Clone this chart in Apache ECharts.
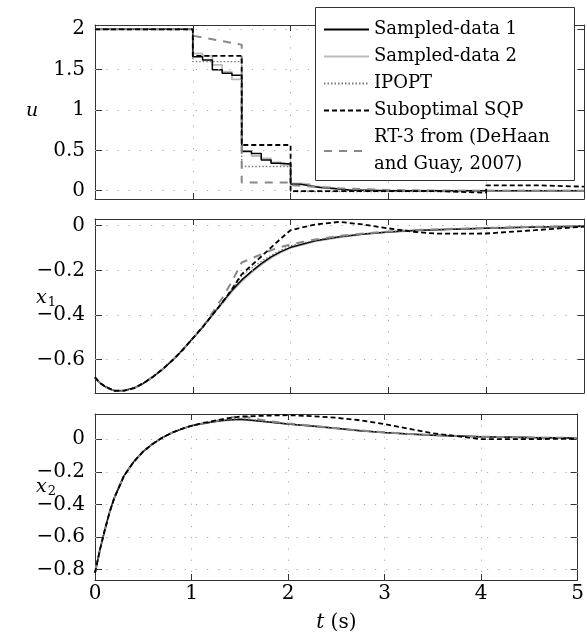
<!DOCTYPE html>
<html>
<head>
<meta charset="utf-8">
<script src="https://cdn.jsdelivr.net/npm/echarts@6/dist/echarts.min.js"></script>
<style>
  html, body { margin: 0; padding: 0; background: #fff; }
  #chart { width: 587px; height: 634px; }
</style>
</head>
<body>
<div id="chart"></div>
<script>
// legend names, in legend order
const names = ["Sampled-data 1", "Sampled-data 2", "IPOPT", "Suboptimal SQP", "RT-3 from (DeHaan\nand Guay, 2007)"];

// tick labels
const tTicks = [0, 1, 2, 3, 4, 5];
const uTicks = [0, 0.5, 1, 1.5, 2];
const x1Ticks = [-0.6, -0.4, -0.2, 0];
const x2Ticks = [-0.8, -0.6, -0.4, -0.2, 0];

// control input u (held values, step at each sample time)
const uTimeFine = [0, 1, 1.1, 1.2, 1.3, 1.4, 1.5, 1.6, 1.7, 1.8, 1.9, 2, 2.1, 2.2, 2.3, 2.4, 2.5, 2.6, 3, 3.5, 4, 5];
const uSampled1 = [2, 1.66, 1.62, 1.50, 1.455, 1.43, 0.49, 0.46, 0.38, 0.34, 0.33, 0.08, 0.06, 0.04, 0.03, 0.02, 0.01, 0, 0, 0, 0, 0];
const uSampled2 = [2, 1.70, 1.67, 1.56, 1.475, 1.38, 0.48, 0.43, 0.40, 0.35, 0.32, 0.09, 0.08, 0.05, 0.04, 0.02, 0.01, 0, 0, 0, 0, 0];
const uTimeCoarse = [0, 1, 1.5, 2, 2.5, 3, 3.5, 4, 4.5, 5];
const uIpopt = [2, 1.6, 0.30, -0.01, -0.01, -0.01, -0.01, 0, 0, 0];
const uSqp = [2, 1.67, 0.566, -0.005, -0.005, -0.005, -0.025, 0.067, 0.05, 0.05];
const uRt3Time = [0, 1, 1, 1.5, 1.5, 2, 2, 2.5, 3, 3.5, 5];
const uRt3 = [2, 2, 1.92, 1.81, 0.10, 0.10, 0.07, 0.03, 0.01, 0, 0];

// states
const tState = [0, 0.05, 0.1, 0.15, 0.2, 0.3, 0.4, 0.5, 0.6, 0.7, 0.8, 0.9, 1, 1.1, 1.2, 1.3, 1.4, 1.5, 1.6, 1.7, 1.8, 1.9, 2, 2.25, 2.5, 2.75, 3, 3.25, 3.5, 4, 4.5, 5];

const x1Sampled1 = [-0.68, -0.705, -0.72, -0.731, -0.740, -0.739, -0.728, -0.705, -0.675, -0.64, -0.60, -0.555, -0.505, -0.455, -0.40, -0.345, -0.29, -0.243, -0.205, -0.17, -0.14, -0.116, -0.097, -0.068, -0.05, -0.037, -0.028, -0.022, -0.018, -0.011, -0.006, -0.002];
const x1Sampled2 = [-0.68, -0.705, -0.72, -0.731, -0.740, -0.739, -0.728, -0.705, -0.675, -0.64, -0.60, -0.555, -0.505, -0.455, -0.40, -0.35, -0.296, -0.25, -0.21, -0.175, -0.145, -0.12, -0.10, -0.07, -0.052, -0.038, -0.029, -0.023, -0.018, -0.011, -0.006, -0.002];
const x1Ipopt = [-0.68, -0.705, -0.72, -0.731, -0.740, -0.739, -0.728, -0.705, -0.675, -0.64, -0.60, -0.555, -0.505, -0.455, -0.40, -0.345, -0.285, -0.225, -0.19, -0.16, -0.133, -0.11, -0.09, -0.065, -0.048, -0.036, -0.027, -0.021, -0.017, -0.01, -0.005, -0.002];
const x1Sqp = [-0.68, -0.705, -0.72, -0.731, -0.740, -0.739, -0.728, -0.705, -0.675, -0.64, -0.60, -0.555, -0.505, -0.455, -0.40, -0.345, -0.285, -0.218, -0.178, -0.138, -0.098, -0.058, -0.02, 0.005, 0.017, 0.005, -0.012, -0.027, -0.036, -0.035, -0.02, -0.004];
const x1Rt3 = [-0.68, -0.705, -0.72, -0.731, -0.740, -0.739, -0.728, -0.705, -0.675, -0.64, -0.60, -0.555, -0.505, -0.455, -0.39, -0.325, -0.25, -0.165, -0.147, -0.128, -0.11, -0.095, -0.084, -0.062, -0.046, -0.035, -0.026, -0.02, -0.016, -0.01, -0.005, -0.002];

const x2Sampled1 = [-0.82, -0.68, -0.56, -0.45, -0.36, -0.225, -0.14, -0.075, -0.028, 0.01, 0.04, 0.063, 0.082, 0.094, 0.104, 0.112, 0.118, 0.122, 0.117, 0.111, 0.105, 0.099, 0.093, 0.08, 0.066, 0.052, 0.04, 0.031, 0.024, 0.014, 0.01, 0.007];
const x2Sampled2 = [-0.82, -0.68, -0.56, -0.45, -0.36, -0.225, -0.14, -0.075, -0.028, 0.01, 0.04, 0.063, 0.082, 0.094, 0.104, 0.112, 0.116, 0.119, 0.115, 0.11, 0.104, 0.098, 0.092, 0.079, 0.065, 0.051, 0.04, 0.031, 0.024, 0.014, 0.01, 0.007];
const x2Ipopt = [-0.82, -0.68, -0.56, -0.45, -0.36, -0.225, -0.14, -0.075, -0.028, 0.01, 0.04, 0.063, 0.082, 0.094, 0.104, 0.112, 0.122, 0.127, 0.121, 0.114, 0.107, 0.1, 0.094, 0.081, 0.067, 0.053, 0.041, 0.032, 0.025, 0.015, 0.01, 0.007];
const x2Sqp = [-0.82, -0.68, -0.56, -0.45, -0.36, -0.225, -0.14, -0.075, -0.028, 0.01, 0.04, 0.063, 0.082, 0.097, 0.108, 0.12, 0.13, 0.138, 0.14, 0.142, 0.144, 0.146, 0.147, 0.141, 0.131, 0.115, 0.092, 0.064, 0.036, 0, 0, 0.003];
const x2Rt3 = [-0.82, -0.68, -0.56, -0.45, -0.36, -0.225, -0.14, -0.075, -0.028, 0.01, 0.04, 0.063, 0.082, 0.094, 0.104, 0.118, 0.13, 0.142, 0.132, 0.121, 0.111, 0.103, 0.096, 0.082, 0.067, 0.053, 0.041, 0.032, 0.025, 0.015, 0.01, 0.007];

const pts = (ts, vs) => ts.map((t, i) => [t, vs[i]]);

const FONT = "DejaVu Serif";
const FRAME = "#333";
const GRIDLINE = { color: "#aaa", width: 1, type: [1.2, 10] };
const TICKFONT = 20;

// line styles for each method
const styles = [
  { color: "#000", width: 1.5, type: "solid", z: 4 },
  { color: "#bbb", width: 1.8, type: "solid", z: 3 },
  { color: "#777", width: 1.3, type: [1.5, 2], z: 5 },
  { color: "#000", width: 1.8, type: [5, 3], z: 7 },
  { color: "#888", width: 2, type: [8, 7], z: 6 }
];

const grids = [
  { left: 95, top: 25, width: 489, height: 174 },
  { left: 95, top: 219, width: 489, height: 174 },
  { left: 95, top: 414, width: 489, height: 174 }
];
const yRanges = [[-0.103, 2.053, uTicks], [-0.75, 0.03, x1Ticks], [-0.863, 0.154, x2Ticks]];

const xAxes = [];
const yAxes = [];
grids.forEach((g, gi) => {
  const last = gi === 2;
  xAxes.push({
    type: "value", gridIndex: gi, min: 0, max: 5, interval: 1, position: "bottom",
    axisLine: { show: true, onZero: false, lineStyle: { color: FRAME, width: 1 } },
    axisTick: { show: true, inside: true, length: 6, lineStyle: { color: FRAME } },
    axisLabel: { show: last, margin: 4, color: "#000", fontFamily: FONT, fontSize: TICKFONT },
    splitLine: { show: true, lineStyle: GRIDLINE },
    name: last ? "{i|t} (s)" : "",
    nameLocation: "middle", nameGap: 33,
    nameTextStyle: { color: "#000", fontFamily: FONT, fontSize: TICKFONT, rich: { i: { fontFamily: FONT, fontSize: TICKFONT, fontStyle: "italic" } } }
  });
  xAxes.push({
    type: "value", gridIndex: gi, min: 0, max: 5, interval: 1, position: "top",
    axisLine: { show: true, onZero: false, lineStyle: { color: FRAME, width: 1 } },
    axisTick: { show: true, inside: true, length: 6, lineStyle: { color: FRAME } },
    axisLabel: { show: false },
    splitLine: { show: false }
  });
  const [mn, mx, ticks] = yRanges[gi];
  yAxes.push({
    type: "value", gridIndex: gi, min: mn, max: mx, position: "left",
    axisLine: { show: true, onZero: false, lineStyle: { color: FRAME, width: 1 } },
    axisTick: { show: true, inside: true, length: 7, customValues: ticks, lineStyle: { color: FRAME } },
    axisLabel: {
      show: true, margin: 10, customValues: ticks, color: "#000", fontFamily: FONT, fontSize: TICKFONT,
      formatter: v => (v < 0 ? "\u2212" + String(-v) : String(v))
    },
    splitLine: { show: false }
  });
  yAxes.push({
    type: "value", gridIndex: gi, min: mn, max: mx, position: "right",
    axisLine: { show: true, onZero: false, lineStyle: { color: FRAME, width: 1 } },
    axisTick: { show: true, inside: true, length: 7, customValues: ticks, lineStyle: { color: FRAME } },
    axisLabel: { show: false },
    splitLine: { show: false }
  });
});

function mk(nameIdx, gi, data, step) {
  const st = styles[nameIdx];
  return {
    type: "line", name: names[nameIdx], xAxisIndex: gi * 2, yAxisIndex: gi * 2,
    data: data, step: step || false, symbol: "none", showSymbol: false, z: st.z,
    color: st.color, lineStyle: { color: st.color, width: st.width, type: st.type },
    animation: false
  };
}

// horizontal dotted grid lines at the tick values
function gridLines(gi) {
  return {
    type: "line", name: "grid" + gi, xAxisIndex: gi * 2, yAxisIndex: gi * 2, data: [],
    z: 1, silent: true, animation: false,
    markLine: {
      silent: true, symbol: ["none", "none"], label: { show: false }, animation: false,
      lineStyle: GRIDLINE,
      emphasis: { disabled: true },
      data: yRanges[gi][2].map(v => ({ yAxis: v }))
    }
  };
}

const series = [
  gridLines(0), gridLines(1), gridLines(2),
  mk(0, 0, pts(uTimeFine, uSampled1), "end"),
  mk(1, 0, pts(uTimeFine, uSampled2), "end"),
  mk(2, 0, pts(uTimeCoarse, uIpopt), "end"),
  mk(3, 0, pts(uTimeCoarse, uSqp), "end"),
  mk(4, 0, pts(uRt3Time, uRt3)),
  mk(0, 1, pts(tState, x1Sampled1)),
  mk(1, 1, pts(tState, x1Sampled2)),
  mk(2, 1, pts(tState, x1Ipopt)),
  mk(3, 1, pts(tState, x1Sqp)),
  mk(4, 1, pts(tState, x1Rt3)),
  mk(0, 2, pts(tState, x2Sampled1)),
  mk(1, 2, pts(tState, x2Sampled2)),
  mk(2, 2, pts(tState, x2Ipopt)),
  mk(3, 2, pts(tState, x2Sqp)),
  mk(4, 2, pts(tState, x2Rt3))
];

const varRich = {
  v: { fontFamily: FONT, fontSize: 19, fontStyle: "italic", color: "#000" },
  s: { fontFamily: FONT, fontSize: 13, color: "#000", padding: [9, 0, 0, 1] }
};

const chart = echarts.init(document.getElementById("chart"), null, { renderer: "canvas" });
chart.setOption({
  backgroundColor: "#fff",
  animation: false,
  grid: grids,
  xAxis: xAxes,
  yAxis: yAxes,
  series: series,
  legend: {
    data: names,
    orient: "vertical", left: 315, top: 10, z: 20,
    padding: [6, 0, 4, 8],
    itemWidth: 45, itemHeight: 14, itemGap: 0,
    selectedMode: false,
    itemStyle: { opacity: 0 },
    textStyle: { fontFamily: FONT, fontSize: 18, lineHeight: 27, color: "#000" }
  },
  graphic: [
    // legend frame
    { type: "rect", z: 19, silent: true, shape: { x: 315.5, y: 7.5, width: 259, height: 173 }, style: { fill: "#fff", stroke: FRAME, lineWidth: 1 } },
    { type: "text", x: 32, y: 111, style: { text: "{v|u}", rich: varRich, align: "center", verticalAlign: "middle" } },
    { type: "text", x: 46, y: 298, style: { text: "{v|x}{s|1}", rich: varRich, align: "center", verticalAlign: "middle" } },
    { type: "text", x: 46, y: 487, style: { text: "{v|x}{s|2}", rich: varRich, align: "center", verticalAlign: "middle" } }
  ]
});
</script>
</body>
</html>
